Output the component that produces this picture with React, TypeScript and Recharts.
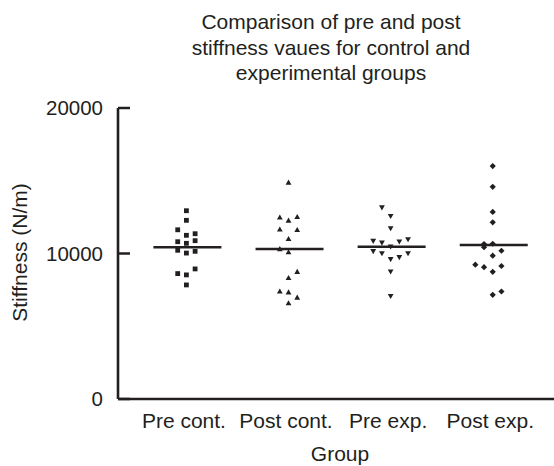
import React from 'react';
import { ScatterChart, Scatter, XAxis, YAxis } from 'recharts';

// ---- data ----
const GROUPS = ['Pre cont.', 'Post cont.', 'Pre exp.', 'Post exp.'];
const Y_TICKS = [0, 10000, 20000];

const PRE_CONT = [12940, 12280, 11630, 11250, 11360, 10810, 10700, 10880, 10220, 10030, 10150, 8940, 8620, 8530, 7840];
const PRE_CONT_SLOT = [0, 0, -1, 0, 1, -1, 0, 1, -1, 0, 1, 1, -1, 0, 0];

const POST_CONT = [14880, 12480, 12270, 12520, 11660, 11630, 11010, 10310, 10100, 8750, 8330, 7400, 7340, 6980, 6590];
const POST_CONT_SLOT = [0, -1, 0, 1, -1, 1, 0, -1, 0, 1, 0, -1, 0, 1, 0];

const PRE_EXP = [13160, 12570, 11730, 10860, 10740, 10810, 10970, 10470, 10150, 10010, 9600, 9740, 10010, 8750, 7070];
const PRE_EXP_SLOT = [-1, 0, 0, -2, -1, 1, 2, 0, -2, -1, 0, 1, 2, 0, 0];

const POST_EXP = [16010, 14580, 12860, 12140, 10650, 10670, 10430, 10190, 9850, 9230, 9060, 9140, 8740, 7160, 7390];
const POST_EXP_SLOT = [0, 0, 0, 0, -1, 0, -1, 1, 0, -2, -1, 1, 0, 0, 1];

const MEANS = [10425, 10310, 10466, 10582];

// ---- styles ----
const INK = '#231f20';
const FONT = '"Liberation Sans", Arial, Helvetica, sans-serif';
const GAP = 8.7; // horizontal spacing between jittered columns (px)

const build = (vals: number[], slots: number[], g: number) =>
  vals.map((v, i) => ({ x: g, y: v, slot: slots[i] }));

const preContData = build(PRE_CONT, PRE_CONT_SLOT, 1);
const postContData = build(POST_CONT, POST_CONT_SLOT, 2);
const preExpData = build(PRE_EXP, PRE_EXP_SLOT, 3);
const postExpData = build(POST_EXP, POST_EXP_SLOT, 4);
const meanData = MEANS.map((m, i) => ({ x: i + 1, y: m }));

const makeShape = (kind: string) => (props: any) => {
  const { cx, cy, payload } = props;
  if (cx == null || cy == null) return <g />;
  const x = cx + (payload?.slot ?? 0) * GAP;
  const y = cy;
  if (kind === 'square') {
    return <rect x={x - 2.4} y={y - 2.4} width={4.8} height={4.8} fill={INK} />;
  }
  if (kind === 'up') {
    return <polygon points={`${x},${y - 2.9} ${x + 2.9},${y + 2.2} ${x - 2.9},${y + 2.2}`} fill={INK} />;
  }
  if (kind === 'down') {
    return <polygon points={`${x - 2.9},${y - 2.2} ${x + 2.9},${y - 2.2} ${x},${y + 2.9}`} fill={INK} />;
  }
  return <polygon points={`${x},${y - 3.1} ${x + 3.1},${y} ${x},${y + 3.1} ${x - 3.1},${y}`} fill={INK} />;
};

const MeanShape = (props: any) => {
  const { cx, cy } = props;
  if (cx == null || cy == null) return <g />;
  return <line x1={cx - 33} x2={cx + 35} y1={cy} y2={cy} stroke={INK} strokeWidth={2.6} />;
};

const YTick = (props: any) => {
  const { x, y, payload } = props;
  return (
    <g>
      <text x={x} y={y} dy="0.36em" textAnchor="end" fontSize={20.5} fontFamily={FONT} fill={INK}>
        {payload.value}
      </text>
      <line x1={x + 15} x2={x + 27} y1={y} y2={y} stroke={INK} strokeWidth={2.5} />
    </g>
  );
};

const XTick = (props: any) => {
  const { x, y, payload } = props;
  return (
    <text x={x - 2.5} y={y} dy="0.71em" textAnchor="middle" fontSize={21} fontFamily={FONT} fill={INK}>
      {GROUPS[payload.value - 1]}
    </text>
  );
};

export default function App() {
  return (
    <div style={{ position: 'absolute', left: 0, top: 0, width: 554, height: 466, background: '#fff' }}>
      <ScatterChart width={554} height={466} margin={{ top: 108, right: 0, bottom: 0, left: 0 }}>
        <XAxis
          type="number"
          dataKey="x"
          domain={[0.33, 4.6]}
          ticks={[1, 2, 3, 4]}
          height={67}
          tickLine={false}
          tickSize={0}
          tickMargin={14}
          tick={<XTick />}
          axisLine={{ stroke: INK, strokeWidth: 2.6 }}
          allowDataOverflow
        />
        <YAxis
          type="number"
          dataKey="y"
          domain={[0, 20000]}
          ticks={Y_TICKS}
          width={118}
          tickLine={false}
          tickSize={0}
          tickMargin={15}
          tick={<YTick />}
          axisLine={{ stroke: INK, strokeWidth: 2.6 }}
          allowDataOverflow
        />
        <Scatter data={preContData} shape={makeShape('square')} isAnimationActive={false} />
        <Scatter data={postContData} shape={makeShape('up')} isAnimationActive={false} />
        <Scatter data={preExpData} shape={makeShape('down')} isAnimationActive={false} />
        <Scatter data={postExpData} shape={makeShape('diamond')} isAnimationActive={false} />
        <Scatter data={meanData} shape={MeanShape} isAnimationActive={false} />
      </ScatterChart>
      <svg width={554} height={466} style={{ position: 'absolute', left: 0, top: 0, pointerEvents: 'none' }}>
        <g fontFamily={FONT} fontSize={21} fill={INK} textAnchor="middle">
          <text x={331} y={29}>Comparison of pre and post</text>
          <text x={331} y={54.5}>stiffness vaues for control and</text>
          <text x={331} y={80}>experimental groups</text>
          <text x={340} y={461}>Group</text>
          <text transform="translate(26.5,252.5) rotate(-90)">Stiffness (N/m)</text>
        </g>
      </svg>
    </div>
  );
}
